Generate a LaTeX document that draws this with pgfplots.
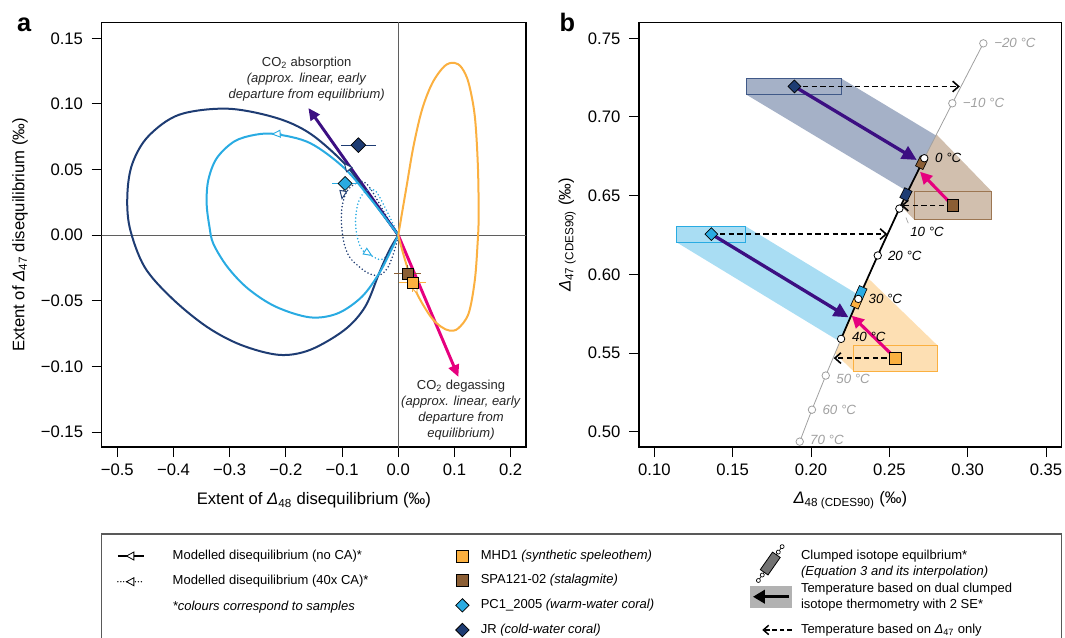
\documentclass[border=0pt]{standalone}
\usepackage{fontspec}
\setmainfont{Liberation Sans}
\usepackage{pgfplots}
\pgfplotsset{compat=1.18}
\usetikzlibrary{arrows.meta}

\definecolor{jr}{RGB}{30,60,115}
\definecolor{pc}{RGB}{41,171,226}
\definecolor{mhd}{RGB}{251,176,64}
\definecolor{spa}{RGB}{139,94,52}
\definecolor{purp}{RGB}{60,15,130}
\definecolor{magen}{RGB}{230,0,126}
\definecolor{zero}{RGB}{95,95,95}
\definecolor{eqgrey}{RGB}{160,160,160}

\newcommand{\fs}[2]{\fontsize{#1}{#2}\selectfont}

\pgfplotsset{
  rplot/.style={
    scale only axis, anchor=south west,
    axis line style={line width=0.9pt},
    tick align=outside, tick pos=left,
    major tick length=7.5pt,
    tick style={black, line width=0.75pt},
    tick label style={font=\fs{12.5}{15}},
    xticklabel style={yshift=-1.5pt},
    yticklabel style={xshift=-3pt},
    label style={font=\fs{12.5}{15}},
    scaled ticks=false,
  },
  legcol/.style={hide axis, scale only axis, width=1pt, height=1pt, anchor=north west,
    xmin=0, xmax=1, ymin=0, ymax=1, legend cell align=left,
    legend style={at={(0,1)}, anchor=north west, draw=none, fill=none,
      inner sep=0pt, outer sep=0pt, font=\fs{9.75}{12},
      nodes={inner sep=0pt}}},
  loop/.style={line width=1.5pt, smooth, tension=0.55},
  dots/.style={line width=1.3pt, smooth, tension=0.55, line cap=round, dash pattern=on 0pt off 2.6pt},
  head/.style={line width=0.7pt, -{Triangle[length=7pt,width=6pt,fill=white,line width=0.7pt]}},
}

\begin{document}
\begin{tikzpicture}
\useasboundingbox (0,0) rectangle (798.75pt,477.75pt);

% ---------------- panel a ----------------
\begin{axis}[rplot,
  at={(76.3pt,142.5pt)}, width=318.2pt, height=318.2pt,
  xmin=-0.5277, xmax=0.2273, ymin=-0.1614, ymax=0.1619,
  xtick={-0.5,-0.4,-0.3,-0.2,-0.1,0,0.1,0.2},
  xticklabels={−0.5,−0.4,−0.3,−0.2,−0.1,0.0,0.1,0.2},
  ytick={-0.15,-0.1,-0.05,0,0.05,0.1,0.15},
  yticklabels={−0.15,−0.10,−0.05,0.00,0.05,0.10,0.15},
  xlabel={Extent of \textit{Δ}\textsubscript{48} disequilibrium (‰)},
  ylabel={Extent of \textit{Δ}\textsubscript{47} disequilibrium (‰)},
  xlabel style={at={(axis description cs:0.5,-0.1257)}, anchor=center},
  ylabel style={at={(axis description cs:-0.1926,0.5)}, anchor=center},
]
\addplot[zero, line width=0.9pt] coordinates {(-0.6,0) (0.3,0)};
\addplot[zero, line width=0.9pt] coordinates {(0,-0.2) (0,0.2)};

% linear early departures
\addplot[purp, line width=2.2pt, -{Triangle[length=9pt,width=8pt]}] coordinates {(0,0) (-0.160,0.0969)};
\addplot[magen, line width=2.2pt, -{Triangle[length=9pt,width=8pt]}] coordinates {(0,0) (0.107,-0.108)};

% 40x CA (dotted)
\addplot[jr, dots] coordinates {
 (0,0) (-0.0136,0.0089) (-0.035,0.025) (-0.052,0.037) (-0.064,0.041) (-0.078,0.039)
 (-0.092,0.033) (-0.100,0.022) (-0.101,0.008) (-0.096,-0.007) (-0.086,-0.017)
 (-0.071,-0.0235) (-0.053,-0.029) (-0.034,-0.0306) (-0.018,-0.0242) (-0.006,-0.0105) (0,0)};
\addplot[pc, dots] coordinates {
 (0,0) (-0.012,0.011) (-0.027,0.024) (-0.040,0.0335) (-0.052,0.035) (-0.064,0.031)
 (-0.0725,0.023) (-0.076,0.011) (-0.073,-0.0015) (-0.064,-0.0114) (-0.049,-0.0155)
 (-0.030,-0.0185) (-0.013,-0.012) (0,0)};

% no CA (solid)
\addplot[jr, loop] coordinates {
 (0,0) (-0.03,0.0172) (-0.06,0.0345) (-0.096,0.0548) (-0.157,0.0775) (-0.218,0.0895)
 (-0.304,0.0964) (-0.390,0.0918) (-0.445,0.0753) (-0.473,0.0548) (-0.482,0.0319)
 (-0.478,0.006) (-0.4515,-0.0242) (-0.4025,-0.0482) (-0.341,-0.0697) (-0.280,-0.0836)
 (-0.212,-0.0912) (-0.157,-0.0874) (-0.0957,-0.0722) (-0.0589,-0.0545) (-0.0344,-0.0293)
 (-0.016,-0.0116) (0,0)};
\addplot[pc, loop] coordinates {
 (0,0) (-0.0466,0.0262) (-0.0957,0.051) (-0.157,0.0702) (-0.218,0.077) (-0.255,0.0765)
 (-0.292,0.0714) (-0.323,0.0587) (-0.338,0.0421) (-0.341,0.0242) (-0.336,0.0064)
 (-0.329,-0.0066) (-0.304,-0.0242) (-0.2675,-0.0407) (-0.218,-0.0545) (-0.157,-0.0626)
 (-0.108,-0.0596) (-0.065,-0.047) (-0.0344,-0.0293) (-0.0129,-0.0116) (0,0)};
\addplot[mhd, loop] coordinates {
 (0,0) (0.0055,-0.0091) (0.0178,-0.0268) (0.0331,-0.0444) (0.0577,-0.0621) (0.0761,-0.0697)
 (0.0914,-0.0727) (0.1067,-0.071) (0.1252,-0.0596) (0.1362,-0.0343) (0.1411,-0.0066)
 (0.143,0.014) (0.1417,0.0523) (0.1362,0.0906) (0.1252,0.116) (0.1129,0.1276) (0.0994,0.1314)
 (0.0822,0.1288) (0.0607,0.116) (0.0423,0.0957) (0.027,0.0676) (0.0147,0.037) (0.0055,0.014) (0,0)};

% direction heads
\addplot[jr, head] coordinates {(-0.085,0.0488) (-0.097,0.0553)};
\addplot[pc, head] coordinates {(-0.208,0.0774) (-0.226,0.0770)};
\addplot[jr, head] coordinates {(-0.0975,0.0345) (-0.1005,0.027)};
\addplot[pc, head] coordinates {(-0.057,-0.0128) (-0.046,-0.0158)};
\addplot[mhd, head] coordinates {(0.0290,-0.0395) (0.0338,-0.0450)};

% samples
\addplot[jr, only marks, mark=square*, mark size=3.9pt,
  mark options={rotate=45, fill=jr, draw=black, line width=0.5pt},
  error bars/.cd, x dir=both, x explicit, error mark=none,
  error bar style={jr, line width=0.9pt}]
  coordinates {(-0.071,0.0686) +- (0.031,0)};
\addplot[pc, only marks, mark=square*, mark size=3.7pt,
  mark options={rotate=45, fill=pc, draw=black, line width=0.5pt},
  error bars/.cd, x dir=both, x explicit, error mark=none,
  error bar style={pc, line width=0.9pt}]
  coordinates {(-0.0947,0.0394) +- (0.023,0)};
\addplot[spa, only marks, mark=square*, mark size=4.1pt,
  mark options={fill=spa, draw=black, line width=0.5pt},
  error bars/.cd, x dir=both, x explicit, y dir=both, y explicit, error mark=none,
  error bar style={spa, line width=0.9pt}]
  coordinates {(0.0166,-0.0293) +- (0.024,0.0063)};
\addplot[mhd, only marks, mark=square*, mark size=4.1pt,
  mark options={fill=mhd, draw=black, line width=0.5pt},
  error bars/.cd, x dir=both, x explicit, y dir=both, y explicit, error mark=none,
  error bar style={mhd, line width=0.9pt}]
  coordinates {(0.0252,-0.0361) +- (0.0245,0.007)};

\node[align=center, font=\fs{9.75}{12}, text=black!85] at (axis cs:-0.163,0.1186)
  {CO\textsubscript{2} absorption\\\textit{(approx. linear, early}\\\textit{departure from equilibrium)}};
\node[align=center, font=\fs{9.75}{12}, text=black!85] at (axis cs:0.1117,-0.1333)
  {CO\textsubscript{2} degassing\\\textit{(approx. linear, early}\\\textit{departure from}\\\textit{equilibrium)}};
\end{axis}

% ---------------- panel b ----------------
\begin{axis}[rplot,
  at={(479.25pt,142.5pt)}, width=317pt, height=318.2pt,
  xmin=0.0902, xmax=0.36, ymin=0.4903, ymax=0.7599,
  xtick={0.1,0.15,0.2,0.25,0.3,0.35},
  xticklabels={0.10,0.15,0.20,0.25,0.30,0.35},
  ytick={0.5,0.55,0.6,0.65,0.7,0.75},
  yticklabels={0.50,0.55,0.60,0.65,0.70,0.75},
  xlabel={\textit{Δ}\textsubscript{48 (CDES90)} (‰)},
  ylabel={\textit{Δ}\textsubscript{47 (CDES90)} (‰)},
  xlabel style={at={(axis description cs:0.5,-0.1257)}, anchor=center},
  ylabel style={at={(axis description cs:-0.170,0.5)}, anchor=center},
]
% 2 SE bands
\addplot[draw=none, fill=jr, fill opacity=0.4] coordinates {
 (0.1589,0.7243) (0.2196,0.7243) (0.2797,0.6883) (0.2723,0.6738) (0.2618,0.6526) (0.1589,0.7141)} -- cycle;
\addplot[draw=none, fill=spa, fill opacity=0.4] coordinates {
 (0.2801,0.6889) (0.3154,0.6526) (0.3154,0.6346) (0.2660,0.6346) (0.2573,0.6436) (0.2723,0.6738)} -- cycle;
\addplot[draw=none, fill=pc, fill opacity=0.4] coordinates {
 (0.1143,0.6307) (0.1580,0.6307) (0.2311,0.5865) (0.2302,0.5844) (0.2192,0.5590) (0.2184,0.5573) (0.1143,0.6203)} -- cycle;
\addplot[draw=none, fill=mhd, fill opacity=0.4] coordinates {
 (0.2362,0.5978) (0.2810,0.5546) (0.2810,0.5385) (0.2271,0.5385) (0.2153,0.5498) (0.2192,0.5590) (0.2302,0.5844)} -- cycle;
\addplot[jr!85, line width=0.7pt] coordinates {(0.1589,0.7141) (0.2196,0.7141) (0.2196,0.7243) (0.1589,0.7243)} -- cycle;
\addplot[spa!85, line width=0.7pt] coordinates {(0.2660,0.6346) (0.3154,0.6346) (0.3154,0.6526) (0.2660,0.6526)} -- cycle;
\addplot[pc, line width=0.7pt] coordinates {(0.1143,0.6203) (0.1580,0.6203) (0.1580,0.6307) (0.1143,0.6307)} -- cycle;
\addplot[mhd, line width=0.7pt] coordinates {(0.2271,0.5385) (0.2810,0.5385) (0.2810,0.5546) (0.2271,0.5546)} -- cycle;

% equilibrium line
\addplot[eqgrey, line width=0.6pt] coordinates {
 (0.1928,0.4937) (0.2006,0.514) (0.2094,0.5357) (0.2192,0.559) (0.2302,0.5844)
 (0.2426,0.612) (0.2564,0.6418) (0.2723,0.6738) (0.2902,0.7087) (0.310,0.7468)};
\addplot[black, line width=1.3pt] coordinates {
 (0.2192,0.559) (0.2302,0.5844) (0.2426,0.612) (0.2564,0.6418) (0.2723,0.6738)};
\addplot[eqgrey, line width=0.5pt] coordinates {(0.2606,0.6361) (0.2621,0.6325)};

% Delta47-only temperatures
\addplot[black, line width=1.2pt, dash pattern=on 4pt off 2.5pt, -{Straight Barb[length=4.5pt,width=8pt]}]
  coordinates {(0.1894,0.7194) (0.2950,0.7194)};
\addplot[black, line width=1.2pt, dash pattern=on 4pt off 2.5pt, -{Straight Barb[length=4.5pt,width=8pt]}]
  coordinates {(0.1364,0.6256) (0.2487,0.6256)};
\addplot[black, line width=1.2pt, dash pattern=on 4pt off 2.5pt, -{Straight Barb[length=4.5pt,width=8pt]}]
  coordinates {(0.2905,0.6437) (0.2575,0.6437)};
\addplot[black, line width=1.2pt, dash pattern=on 4pt off 2.5pt, -{Straight Barb[length=4.5pt,width=8pt]}]
  coordinates {(0.2539,0.5468) (0.2145,0.5468)};

% dual clumped temperatures
\addplot[purp, line width=2.5pt, -{Triangle[length=11pt,width=10.5pt]}] coordinates {(0.1894,0.7194) (0.2675,0.6727)};
\addplot[purp, line width=2.5pt, -{Triangle[length=11pt,width=10.5pt]}] coordinates {(0.1364,0.6256) (0.2239,0.5727)};
\addplot[magen, line width=2.3pt, -{Triangle[length=9pt,width=9pt]}] coordinates {(0.2905,0.6437) (0.2696,0.6652)};
\addplot[magen, line width=2.3pt, -{Triangle[length=9pt,width=9pt]}] coordinates {(0.2539,0.5468) (0.2260,0.5737)};

% known temperatures on the equilibrium line
\addplot[black, line width=6.7pt] coordinates {(0.25896,0.6475) (0.26224,0.6541)};
\addplot[jr, line width=5.5pt] coordinates {(0.2592,0.64795) (0.2620,0.65365)};
\addplot[black, line width=6.7pt] coordinates {(0.26896,0.6676) (0.27224,0.6742)};
\addplot[spa, line width=5.5pt] coordinates {(0.2692,0.66805) (0.2720,0.67375)};
\addplot[black, line width=6.7pt] coordinates {(0.22759,0.57883) (0.23061,0.58557)};
\addplot[mhd, line width=5.5pt] coordinates {(0.2278,0.5793) (0.2304,0.5851)};
\addplot[black, line width=6.7pt] coordinates {(0.23039,0.58523) (0.23341,0.59197)};
\addplot[pc, line width=5.5pt] coordinates {(0.2306,0.5857) (0.2332,0.5915)};

\addplot[only marks, mark=*, mark size=2.8pt, mark options={fill=white, draw=eqgrey, line width=0.6pt}]
  coordinates {(0.1928,0.4937) (0.2006,0.514) (0.2094,0.5357) (0.2902,0.7087) (0.310,0.7468)};
\addplot[only marks, mark=*, mark size=2.8pt, mark options={fill=white, draw=black, line width=0.6pt}]
  coordinates {(0.2192,0.559) (0.2302,0.5844) (0.2426,0.612) (0.2564,0.6418) (0.2723,0.6738)};

% samples
\addplot[only marks, mark=square*, mark size=3.4pt, mark options={rotate=45, fill=jr, draw=black, line width=0.5pt}]
  coordinates {(0.1894,0.7194)};
\addplot[only marks, mark=square*, mark size=3.4pt, mark options={rotate=45, fill=pc, draw=black, line width=0.5pt}]
  coordinates {(0.1364,0.6256)};
\addplot[only marks, mark=square*, mark size=4.4pt, mark options={fill=spa, draw=black, line width=0.5pt}]
  coordinates {(0.2905,0.6437)};
\addplot[only marks, mark=square*, mark size=4.4pt, mark options={fill=mhd, draw=black, line width=0.5pt}]
  coordinates {(0.2539,0.5468)};

\begin{scope}[every node/.style={anchor=west, inner sep=0pt, font=\fs{10}{12}\itshape}]
\node[text=eqgrey] at (axis cs:0.3168,0.7468) {−20 °C};
\node[text=eqgrey] at (axis cs:0.2968,0.7089) {−10 °C};
\node at (axis cs:0.2791,0.6740) {0 °C};
\node at (axis cs:0.2632,0.6270) {10 °C};
\node at (axis cs:0.2490,0.6119) {20 °C};
\node at (axis cs:0.2366,0.5843) {30 °C};
\node at (axis cs:0.2260,0.5600) {40 °C};
\node[text=eqgrey] at (axis cs:0.2160,0.5335) {50 °C};
\node[text=eqgrey] at (axis cs:0.2072,0.5138) {60 °C};
\node[text=eqgrey] at (axis cs:0.1993,0.4947) {70 °C};
\end{scope}
\end{axis}

\node[anchor=base west, font=\fs{19}{20}\bfseries] at (9.3pt,454pt) {a};
\node[anchor=base west, font=\fs{19}{20}\bfseries] at (416.25pt,454pt) {b};

% ---------------- legend ----------------
\draw[black!65, line width=0.9pt] (76.3pt,-10pt) -- (76.3pt,77.25pt) -- (796.3pt,77.25pt) -- (796.3pt,-10pt);

\begin{axis}[legcol, at={(87.75pt,65.75pt)},
  legend style={row sep=9.3pt, column sep=21pt, nodes={text height=7.2pt, text depth=2.4pt}}]
\addlegendimage{legend image code/.code={
  \path[draw=none, fill=none] (0pt,-5pt) rectangle (19.5pt,5pt);
  \draw[black, line width=1.3pt] (0pt,0pt) -- (19.5pt,0pt);
  \draw[black, fill=white, line width=0.6pt] (6.5pt,0pt) -- (12pt,3pt) -- (12pt,-3pt) -- cycle;}}
\addlegendentry{Modelled disequilibrium (no CA)*}
\addlegendimage{legend image code/.code={
  \path[draw=none, fill=none] (0pt,-5pt) rectangle (19.5pt,5pt);
  \draw[black, line width=1.1pt, line cap=round, dash pattern=on 0pt off 2.2pt] (0pt,0pt) -- (19.5pt,0pt);
  \draw[black, fill=white, line width=0.6pt, solid] (6.5pt,0pt) -- (12pt,3pt) -- (12pt,-3pt) -- cycle;}}
\addlegendentry{Modelled disequilibrium (40x CA)*}
\addlegendimage{legend image code/.code={\path[draw=none, fill=none] (0pt,-5pt) rectangle (19.5pt,5pt);}}
\addlegendentry{\textit{*colours correspond to samples}}
\end{axis}

\begin{axis}[legcol, at={(341.5pt,66.25pt)},
  legend style={row sep=7.5pt, column sep=8.5pt, nodes={text height=7.2pt, text depth=2.4pt}}]
\addlegendimage{legend image code/.code={\path[draw=none, fill=none] (0pt,-5.5pt) rectangle (10pt,5.5pt);
  \draw[black, fill=mhd, line width=0.6pt] (0.5pt,-4.5pt) rectangle (9.5pt,4.5pt);}}
\addlegendentry{MHD1 \textit{(synthetic speleothem)}}
\addlegendimage{legend image code/.code={\path[draw=none, fill=none] (0pt,-5.5pt) rectangle (10pt,5.5pt);
  \draw[black, fill=spa, line width=0.6pt] (0.5pt,-4.5pt) rectangle (9.5pt,4.5pt);}}
\addlegendentry{SPA121-02 \textit{(stalagmite)}}
\addlegendimage{legend image code/.code={\path[draw=none, fill=none] (0pt,-5.5pt) rectangle (10pt,5.5pt);
  \draw[black, fill=pc, line width=0.6pt] (5pt,-5pt) -- (10pt,0pt) -- (5pt,5pt) -- (0pt,0pt) -- cycle;}}
\addlegendentry{PC1\_2005 \textit{(warm-water coral)}}
\addlegendimage{legend image code/.code={\path[draw=none, fill=none] (0pt,-5.5pt) rectangle (10pt,5.5pt);
  \draw[black, fill=jr, line width=0.6pt] (5pt,-5pt) -- (10pt,0pt) -- (5pt,5pt) -- (0pt,0pt) -- cycle;}}
\addlegendentry{JR \textit{(cold-water coral)}}
\end{axis}

\begin{axis}[legcol, at={(562.5pt,70.6pt)},
  legend style={row sep=-6.1pt, column sep=6.5pt, nodes={align=left}}]
\addlegendimage{legend image code/.code={\path[draw=none, fill=none] (0pt,-15.5pt) rectangle (31pt,15.5pt);
  \begin{scope}[shift={(15pt,0pt)}, rotate=55]
    \draw[black, line width=0.5pt] (-17pt,0pt) -- (17pt,0pt);
    \draw[black, fill=black!55, line width=0.6pt] (-8pt,-3.5pt) rectangle (8pt,3.5pt);
    \draw[black, fill=white, line width=0.5pt] (-15.5pt,0pt) circle (1.5pt);
    \draw[black, fill=white, line width=0.5pt] (-10.5pt,0pt) circle (1.5pt);
    \draw[black, fill=white, line width=0.5pt] (10.5pt,0pt) circle (1.5pt);
    \draw[black, fill=white, line width=0.5pt] (15.5pt,0pt) circle (1.5pt);
  \end{scope}}}
\addlegendentry{Clumped isotope equilbrium*\\\textit{(Equation 3 and its interpolation)}}
\addlegendimage{legend image code/.code={\path[draw=none, fill=none] (0pt,-15.5pt) rectangle (31pt,15.5pt);
  \fill[black!30] (0pt,-7.75pt) rectangle (31pt,7.75pt);
  \draw[black, line width=2.4pt, -{Triangle[length=9pt,width=10pt]}] (29pt,0pt) -- (2pt,0pt);}}
\addlegendentry{Temperature based on dual clumped\\isotope thermometry with 2 SE*}
\addlegendimage{legend image code/.code={\path[draw=none, fill=none] (0pt,-15.5pt) rectangle (31pt,15.5pt);
  \draw[black, line width=1.1pt, dash pattern=on 3.5pt off 2pt, -{Straight Barb[length=4pt,width=7pt]}] (31pt,0pt) -- (9pt,0pt);}}
\addlegendentry{Temperature based on \textit{Δ}\textsubscript{47} only}
\end{axis}
\end{tikzpicture}
\end{document}
